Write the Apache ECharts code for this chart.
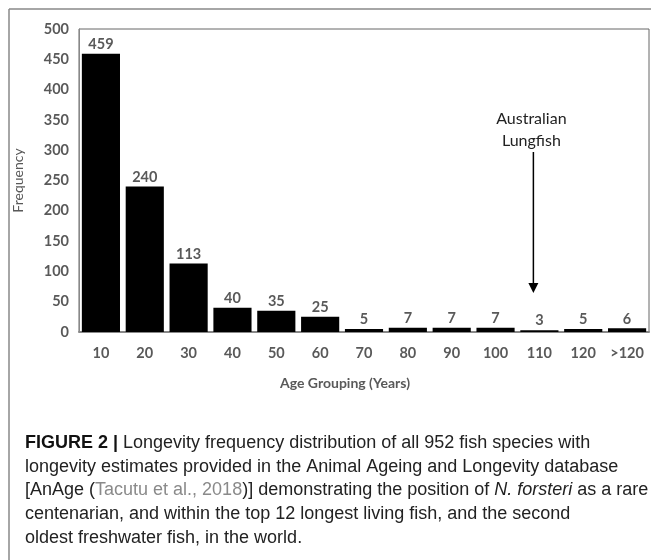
<!DOCTYPE html>
<html lang="en">
<head>
    <meta charset="UTF-8">
    <title>Longevity frequency</title>
    <script src="https://cdn.jsdelivr.net/npm/echarts@6/dist/echarts.min.js"></script>
    <style>
        html, body { margin: 0; padding: 0; background: #fff; }
        #main { width: 651px; height: 560px; }
    </style>
</head>
<body>
<div id="main"></div>
<script>
    // age groups and counts
    var ageGroups = ['10', '20', '30', '40', '50', '60', '70', '80', '90', '100', '110', '120', '>120'];
    var frequency = [459, 240, 113, 40, 35, 25, 5, 7, 7, 7, 3, 5, 6];
    var yTicks = [0, 50, 100, 150, 200, 250, 300, 350, 400, 450, 500];
    var lungfishGroup = '110';

    var grey = '#595959';
    var axisFont = 'Lato, "Open Sans", sans-serif';
    var capFont = '"Liberation Sans", Arial, sans-serif';

    var myChart = echarts.init(document.getElementById('main'));

    var option = {
        backgroundColor: '#fff',
        animation: false,
        grid: {
            left: 79, right: 2, top: 29, bottom: 228,
            show: true, borderColor: '#666', borderWidth: 1
        },
        xAxis: {
            type: 'category',
            data: ageGroups,
            axisTick: {show: false},
            axisLine: {lineStyle: {color: '#888', width: 2}},
            axisLabel: {interval: 0, color: grey, fontFamily: axisFont, fontWeight: 'bold', fontSize: 14.5, margin: 14}
        },
        yAxis: {
            type: 'value',
            min: yTicks[0],
            max: yTicks[yTicks.length - 1],
            interval: yTicks[1] - yTicks[0],
            splitLine: {show: false},
            axisTick: {show: false},
            axisLine: {show: true, lineStyle: {color: '#888'}},
            axisLabel: {color: grey, fontFamily: axisFont, fontWeight: 'bold', fontSize: 14.5, margin: 10},
            name: 'Frequency',
            nameLocation: 'middle',
            nameGap: 54,
            nameTextStyle: {color: grey, fontFamily: axisFont, fontSize: 14}
        },
        series: [{
            type: 'bar',
            data: frequency,
            barCategoryGap: '13%',
            itemStyle: {color: '#000'},
            label: {
                show: true, position: 'top', distance: 2,
                color: grey, fontFamily: axisFont, fontWeight: 'bold', fontSize: 14.5
            }
        }]
    };

    myChart.setOption(option);

    // annotation arrow over the lungfish bar
    var ax = myChart.convertToPixel({xAxisIndex: 0}, lungfishGroup) - 6;

    var rich = {
        b: {fontWeight: 'bold', fontSize: 18, fontFamily: capFont, fill: '#111', lineHeight: 23.7},
        g: {fill: '#8a8a8a', fontSize: 18, fontFamily: capFont, lineHeight: 23.7},
        i: {fontStyle: 'italic', fontSize: 18, fontFamily: capFont, lineHeight: 23.7}
    };

    myChart.setOption({
        graphic: [
            // outer frame
            {type: 'line', shape: {x1: 9, y1: 9, x2: 651, y2: 9}, style: {stroke: '#888', lineWidth: 1.5}},
            {type: 'line', shape: {x1: 9, y1: 9, x2: 9, y2: 560}, style: {stroke: '#888', lineWidth: 1.5}},
            {
                type: 'text', x: 345, y: 376,
                style: {text: 'Age Grouping (Years)', align: 'center', fill: grey, font: 'bold 14px ' + axisFont}
            },
            {
                type: 'text', x: 25, y: 431,
                style: {
                    text: '{b|FIGURE 2 |} Longevity frequency distribution of all 952 fish species with\n' +
                        'longevity estimates provided in the Animal Ageing and Longevity database\n' +
                        '[AnAge ({g|Tacutu et al., 2018})] demonstrating the position of {i|N. forsteri} as a rare\n' +
                        'centenarian, and within the top 12 longest living fish, and the second\n' +
                        'oldest freshwater fish, in the world.',
                    fill: '#222',
                    font: '18px ' + capFont,
                    lineHeight: 23.7,
                    rich: rich
                }
            },
            {
                type: 'text', x: ax - 2, y: 108,
                style: {
                    text: 'Australian\nLungfish', align: 'center', fill: '#222',
                    font: '16px ' + axisFont, lineHeight: 22
                }
            },
            {type: 'line', shape: {x1: ax, y1: 152, x2: ax, y2: 284}, style: {stroke: '#000', lineWidth: 1.5}},
            {type: 'polygon', shape: {points: [[ax - 5, 283], [ax + 5, 283], [ax, 293]]}, style: {fill: '#000'}}
        ]
    });
</script>
</body>
</html>
